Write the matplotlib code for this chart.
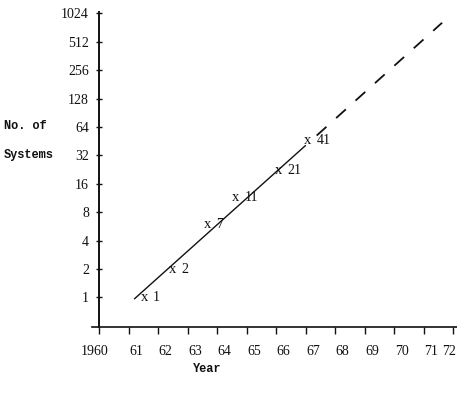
import matplotlib
matplotlib.use("Agg")
import matplotlib.pyplot as plt
from matplotlib.ticker import FixedLocator, NullLocator

# ---- data ----
years = [1960, 1961, 1962, 1963, 1964, 1965, 1966, 1967, 1968, 1969, 1970, 1971, 1972]
year_labels = ["1960", "61", "62", "63", "64", "65", "66", "67", "68", "69", "70", "71", "72"]
y_ticks = [1, 2, 4, 8, 16, 32, 64, 128, 256, 512, 1024]
y_labels = ["1", "2", "4", "8", "16", "32", "64", "128", "256", "512", "1024"]

# plotted "x" marks (position as drawn) and their labels (system counts)
point_years = [1961.52, 1962.49, 1963.66, 1964.62, 1966.07, 1967.05]
point_values = [1.0, 2.0, 5.9, 11.6, 22.4, 46.0]
point_counts = ["1", "2", "7", "11", "21", "41"]

# trend line (solid) and its projection (dashed)
trend_years = [1961.18, 1967.0]
trend_values = [0.96, 41.0]
proj_years = [1967.37, 1971.62]
proj_values = [52.0, 815.0]

plt.rcParams['lines.scale_dashes'] = False
INK = "#111111"
SERIF = "Liberation Serif"
MONO = "Liberation Mono"
FS = 10

W, H = 457, 411
PX_PER_YEAR = 29.5
X0, X1 = 1959.7, 1972.3
x1960_px = 99.3
ax_left = x1960_px + (X0 - 1960) * PX_PER_YEAR
ax_right = x1960_px + (X1 - 1960) * PX_PER_YEAR
ax_top, ax_bottom = 11.7, 326.7

fig = plt.figure(figsize=(4.57, 4.11), dpi=100)
ax = fig.add_axes([ax_left / W, 1 - ax_bottom / H, (ax_right - ax_left) / W, (ax_bottom - ax_top) / H])
ax.set_yscale('log', base=2)

# lines
ax.plot(trend_years, trend_values, color=INK, lw=1.0, solid_capstyle='butt')
ax.plot(proj_years, proj_values, color=INK, lw=1.3, dashes=(9.4, 9.4), dash_capstyle='butt')

# x marks and count labels
for xv, yv, lab in zip(point_years, point_values, point_counts):
    ax.text(xv, yv, "x", family=SERIF, fontsize=FS + 0.5, color=INK, ha='center', va='center')
    ax.annotate(lab, (xv, yv), xytext=(6.5, 0), textcoords='offset points',
                family=SERIF, fontsize=FS, color=INK, ha='left', va='center')

# spines
for s in ['top', 'right']:
    ax.spines[s].set_visible(False)
ax.spines['left'].set_position(('data', 1960))
ax.spines['left'].set_linewidth(1.4)
ax.spines['bottom'].set_linewidth(1.2)
ax.spines['left'].set_color(INK)
ax.spines['bottom'].set_color(INK)
ax.spines['bottom'].set_bounds(1959.75, X1)

# y ticks
ax.yaxis.set_major_locator(FixedLocator(y_ticks))
ax.yaxis.set_minor_locator(NullLocator())
ax.set_yticklabels(y_labels)
ax.tick_params(axis='y', which='major', direction='inout', length=5, width=1.0,
               color=INK, pad=5, labelsize=FS, labelcolor=INK)
for t in ax.get_yticklabels():
    t.set_family(SERIF)

# x ticks: tick marks at years (minor), labels slightly to the right (major, no mark)
ax.set_xticks(years, minor=True)
label_pos = []
for i, y in enumerate(years):
    off = 0.25
    if i == 0:
        off = -0.15
    elif i == len(years) - 1:
        off = -0.15
    label_pos.append(y + off)
ax.set_xticks(label_pos)
ax.set_xticklabels(year_labels)
ax.tick_params(axis='x', which='minor', direction='out', length=5, width=1.0, color=INK)
ax.tick_params(axis='x', which='major', length=0, pad=13.5, labelsize=FS, labelcolor=INK)
for t in ax.get_xticklabels():
    t.set_family(SERIF)

ax.set_xlim(X0, X1)
ax.set_ylim(2 ** -1.03, 2 ** 10.06)

# axis titles
fig.text(4 / W, 1 - 126 / H, "No. of", family=MONO, weight='bold', fontsize=8.6,
         color=INK, ha='left', va='center')
fig.text(4 / W, 1 - 155 / H, "Systems", family=MONO, weight='bold', fontsize=8.6,
         color=INK, ha='left', va='center')
fig.text(207 / W, 1 - 369 / H, "Year", family=MONO, weight='bold', fontsize=8.6,
         color=INK, ha='center', va='center')

fig.savefig("out.png", dpi=100, facecolor='white')
